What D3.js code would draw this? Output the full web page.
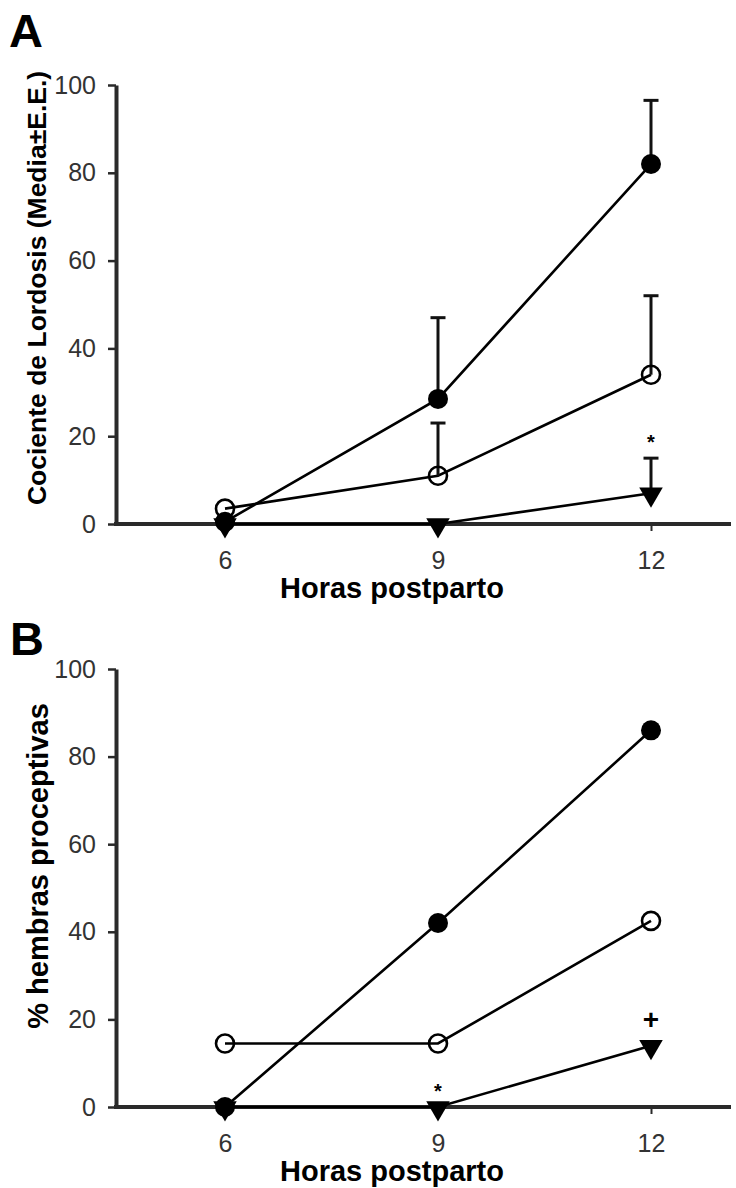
<!DOCTYPE html>
<html><head><meta charset="utf-8">
<script src="https://cdn.jsdelivr.net/npm/d3@7/dist/d3.min.js"></script>
<style>
html,body{margin:0;padding:0;background:#fff;}
svg{display:block;font-family:"Liberation Sans",Arial,Helvetica,sans-serif;}
</style></head>
<body><svg id="c" width="736" height="1188"></svg>
<script>
// ---- data ----
const hours = [6, 9, 12];
const xTickLabels = ["6", "9", "12"];
const yTicks = [0, 20, 40, 60, 80, 100];

// Panel A: Cociente de Lordosis (Media ± E.E.)
const aFilled = [0.5, 28.5, 82];
const aFilledSE = [0, 18.5, 14.5];
const aOpen = [3.5, 11, 34];
const aOpenSE = [0, 12, 18];
const aTri = [0, 0, 7];
const aTriSE = [0, 0, 8];
const aMarks = [{h: 12, v: 20.5, t: "*"}];

// Panel B: % hembras proceptivas
const bFilled = [0, 42, 86];
const bOpen = [14.5, 14.5, 42.5];
const bTri = [0, 0, 14];
const bMarks = [{h: 9, v: 5.5, t: "*"}, {h: 12, v: 20, t: "+"}];

const svg = d3.select("#c");
const x = d3.scaleLinear().domain([6, 12]).range([225, 651]);

function panel(cfg) {
  const y = d3.scaleLinear().domain([0, 100]).range([cfg.y0, cfg.y100]);
  const g = svg.append("g");

  // panel letter
  g.append("text").attr("x", cfg.letterX).attr("y", cfg.letterY)
    .attr("font-size", 47).attr("font-weight", "bold").text(cfg.letter);

  // y axis
  const ya = g.append("g").attr("transform", "translate(116,0)")
    .call(d3.axisLeft(y).tickValues(yTicks).tickSize(8).tickSizeOuter(0).tickPadding(12));
  ya.select(".domain").attr("stroke", "#2a2a2a").attr("stroke-width", 4);
  ya.selectAll(".tick line").attr("stroke", "#2a2a2a").attr("stroke-width", 2.5);
  ya.selectAll(".tick text").attr("font-size", 25).attr("fill", "#333")
    .attr("font-family", "'Liberation Sans',Arial,sans-serif");

  // x axis
  const xa = g.append("g").attr("transform", `translate(0,${cfg.y0})`)
    .call(d3.axisBottom(x).tickValues(hours).tickFormat((d, i) => xTickLabels[i])
      .tickSize(7).tickSizeOuter(0).tickPadding(20));
  xa.select(".domain").remove();
  xa.selectAll(".tick line").attr("stroke", "#2a2a2a").attr("stroke-width", 2);
  xa.selectAll(".tick text").attr("font-size", 25).attr("fill", "#333")
    .attr("font-family", "'Liberation Sans',Arial,sans-serif");
  g.append("line").attr("x1", 114).attr("x2", 731).attr("y1", cfg.y0).attr("y2", cfg.y0)
    .attr("stroke", "#2a2a2a").attr("stroke-width", 4);

  // axis titles
  g.append("text").attr("x", 392).attr("y", cfg.xLabelY).attr("text-anchor", "middle")
    .attr("font-size", 29).attr("font-weight", "bold").text("Horas postparto");
  g.append("text").attr("transform", `translate(${cfg.yLabelX},${cfg.yLabelY}) rotate(-90)`)
    .attr("text-anchor", "middle").attr("font-size", cfg.yLabelSize).attr("font-weight", "bold")
    .text(cfg.yLabel);

  const line = d3.line().x((d, i) => x(hours[i])).y(d => y(d));
  const series = cfg.series;

  // lines
  series.forEach(s => {
    g.append("path").attr("d", line(s.values)).attr("fill", "none")
      .attr("stroke", "#000").attr("stroke-width", 2.6);
  });

  // error bars (upper only)
  series.forEach(s => {
    if (!s.se) return;
    s.values.forEach((v, i) => {
      if (!s.se[i]) return;
      const xx = x(hours[i]);
      g.append("line").attr("x1", xx).attr("x2", xx).attr("y1", y(v)).attr("y2", y(v + s.se[i]))
        .attr("stroke", "#111").attr("stroke-width", 3);
      g.append("line").attr("x1", xx - 7.5).attr("x2", xx + 7.5).attr("y1", y(v + s.se[i])).attr("y2", y(v + s.se[i]))
        .attr("stroke", "#111").attr("stroke-width", 3);
    });
  });

  // markers
  series.forEach(s => {
    s.values.forEach((v, i) => {
      const xx = x(hours[i]), yy = y(v);
      if (s.type === "filled") {
        g.append("circle").attr("cx", xx).attr("cy", yy).attr("r", 10).attr("fill", "#000");
      } else if (s.type === "open") {
        g.append("circle").attr("cx", xx).attr("cy", yy).attr("r", 9).attr("fill", "none")
          .attr("stroke", "#000").attr("stroke-width", 2.6);
      } else {
        g.append("path").attr("d", d3.symbol().type(d3.symbolTriangle).size(240)())
          .attr("transform", `translate(${xx},${yy + 1}) rotate(180)`).attr("fill", "#000");
      }
    });
  });

  // significance marks
  cfg.marks.forEach(m => {
    g.append("text").attr("x", x(m.h)).attr("y", y(m.v)).attr("text-anchor", "middle")
      .attr("dy", m.t === "*" ? "0.75em" : "0.36em")
      .attr("font-size", m.t === "*" ? 20 : 28).attr("font-weight", "bold").text(m.t);
  });
}

panel({
  letter: "A", letterX: 9, letterY: 47, y0: 524, y100: 85,
  xLabelY: 598, yLabelX: 46, yLabelY: 288, yLabelSize: 26.5,
  yLabel: "Cociente de Lordosis (Media±E.E.)",
  series: [
    {type: "tri", values: aTri, se: aTriSE},
    {type: "open", values: aOpen, se: aOpenSE},
    {type: "filled", values: aFilled, se: aFilledSE}
  ],
  marks: aMarks
});

panel({
  letter: "B", letterX: 10, letterY: 655, y0: 1107, y100: 669,
  xLabelY: 1181, yLabelX: 48, yLabelY: 866, yLabelSize: 29,
  yLabel: "% hembras proceptivas",
  series: [
    {type: "tri", values: bTri},
    {type: "open", values: bOpen},
    {type: "filled", values: bFilled}
  ],
  marks: bMarks
});
</script></body></html>
